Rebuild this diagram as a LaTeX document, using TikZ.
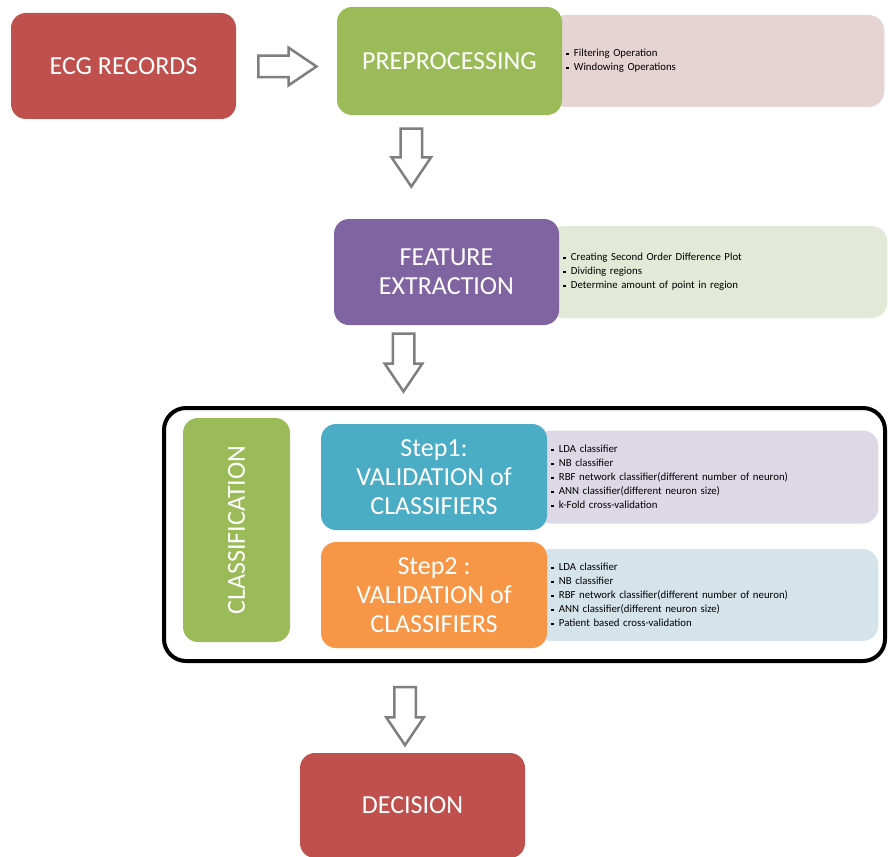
\documentclass[tikz,border=0pt]{standalone}
\usepackage{fontspec}
\setmainfont{Carlito}
\usetikzlibrary{positioning,calc,shapes.arrows,backgrounds}

\definecolor{recred}{HTML}{C0504D}
\definecolor{prepgreen}{HTML}{9BBB59}
\definecolor{featpurple}{HTML}{8064A2}
\definecolor{stepblue}{HTML}{4BACC6}
\definecolor{steporange}{HTML}{F79646}
\definecolor{preppink}{HTML}{E6D4D4}
\definecolor{featpale}{HTML}{E3E9D7}
\definecolor{steplilac}{HTML}{DDD8E5}
\definecolor{stepsky}{HTML}{D5E3EA}
\definecolor{arrowgray}{HTML}{7F7F7F}

\newcommand{\bul}{\rule[0.3ex]{2.5pt}{2.5pt}\hspace{5pt}}

\begin{document}
\begin{tikzpicture}[x=1pt,y=-1pt,
  stage/.style={rounded corners=15pt,text=white,align=center,minimum width=225pt,minimum height=106pt,font=\fontsize{26}{29}\selectfont},
  info/.style={rounded corners=16pt,align=left,inner xsep=16pt,minimum height=92pt,font=\fontsize{10.8}{14}\selectfont},
  hollow/.style={single arrow,draw=arrowgray,fill=white,line width=2.5pt,minimum height=58pt,inner xsep=0pt,inner ysep=9.5pt,single arrow head extend=8pt,single arrow tip angle=68}]

\useasboundingbox (0,0) rectangle (888,856);

\node [stage,fill=recred] (ecg) at (123.5,66) {ECG RECORDS};
\node [stage,fill=prepgreen,minimum height=108pt] (prep) at (449.5,61) {PREPROCESSING};
\node [stage,fill=featpurple] (feat) at (446.5,272) {FEATURE\\EXTRACTION};

\node [draw,line width=4pt,rounded corners=22pt,minimum width=721pt,minimum height=253pt] (frame) at (524.5,534.5) {};
\node [stage,fill=prepgreen,rotate=90,minimum width=224pt,minimum height=107pt] (cls) at (236.5,530) {CLASSIFICATION};
\node [stage,fill=stepblue,minimum width=226pt] (step1) at (434,477) {Step1:\\VALIDATION of\\CLASSIFIERS};
\node [stage,fill=steporange,minimum width=226pt] (step2) at (434,595) {Step2 :\\VALIDATION of\\CLASSIFIERS};

\node [stage,fill=recred,minimum height=105pt] (dec) at (412.5,805.5) {DECISION};

\begin{pgfonlayer}{background}
\fill[white] (0,0) rectangle (888,856);
\node [info,fill=preppink,text width=302pt,right=-12pt of prep] (prepinfo) {\bul Filtering Operation\\\bul Windowing Operations};
\node [info,fill=featpale,text width=308pt,right=-12pt of feat] (featinfo) {\bul Creating Second Order Difference Plot\\\bul Dividing regions\\\bul Determine amount of point in region};
\node [info,fill=steplilac,text width=311pt,minimum height=93pt,right=-12pt of step1] (s1info) {\bul LDA classifier\\\bul NB classifier\\\bul RBF network classifier(different number of neuron)\\\bul ANN classifier(different neuron size)\\\bul k-Fold cross-validation};
\node [info,fill=stepsky,text width=311pt,right=-12pt of step2] (s2info) {\bul LDA classifier\\\bul NB classifier\\\bul RBF network classifier(different number of neuron)\\\bul ANN classifier(different neuron size)\\\bul Patient based cross-validation};
\end{pgfonlayer}

% hollow arrows between the stages
\node [hollow] (a1) at ($(ecg.east)!0.5!(prep.west)+(-7,3)$) {};
\node [hollow,rotate=-90,single arrow head extend=9pt] (a2) at ($(prep.south)!0.4!(feat.north)+(-37,-7)$) {};
\node [hollow,rotate=-90] (a3) at ($(feat.south)!0.45!(feat.south|-frame.north)+(-43,-7)$) {};
\node [hollow,rotate=-90] (a4) at ($(dec.north|-frame.south)!0.57!(dec.north)+(-7.5,-6)$) {};

\end{tikzpicture}
\end{document}
